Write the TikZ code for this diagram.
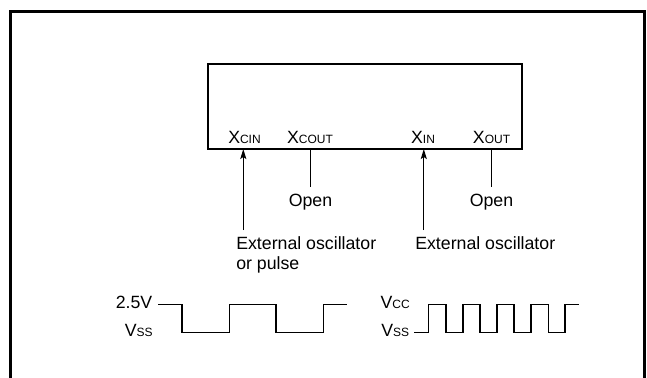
\documentclass[tikz,border=0pt]{standalone}
\usepackage{fontspec}
\setmainfont{Liberation Sans}
\usetikzlibrary{arrows.meta}
\newcommand{\smc}[1]{{\fontsize{9}{10}\selectfont #1}}
\begin{document}
\begin{tikzpicture}[x=0.75pt,y=-0.75pt,
  font=\fontsize{13.3}{15}\selectfont,
  lab/.style={inner sep=0pt, anchor=base},
  labw/.style={inner sep=0pt, anchor=base west},
  labe/.style={inner sep=0pt, anchor=base east},
  pinline/.style={line width=0.9pt},
  arr/.style={line width=0.9pt,-{Stealth[length=7.5pt,width=4.5pt,inset=1.5pt]}},
  wave/.style={line width=1.2pt}]
\useasboundingbox (0,0) rectangle (647,378);
% outer frame (open at bottom)
\draw[line width=1.7pt] (10.5,380) -- (10.5,11.5) -- (644.5,11.5) -- (644.5,380);
% chip
\node[draw, line width=1.2pt, inner sep=0pt, minimum width=235.5pt, minimum height=63.75pt] (chip) at (365,106.5) {};
% pin labels
\node[lab] (lcin)  at (244.5,143) {X\smc{CIN}};
\node[lab] (lcout) at (310,143) {X\smc{COUT}};
\node[lab] (lin)   at (423,143) {X\smc{IN}};
\node[lab] (lout)  at (491.5,143) {X\smc{OUT}};
% pin points on the chip edge
\coordinate (pcin)  at (243.3,149);
\coordinate (pcout) at (310.7,149);
\coordinate (pin)   at (423.8,149);
\coordinate (pout)  at (491.7,149);
% free ends
\coordinate (ecin)  at (243.3,230);
\coordinate (ein)   at (423.8,230);
\coordinate (ecout) at (310.7,187);
\coordinate (eout)  at (491.7,187);
\draw[arr] (ecin) -- (pcin);
\draw[arr] (ein) -- (pin);
\draw[pinline] (pcout) -- (ecout);
\draw[pinline] (pout) -- (eout);
% texts below
\node[lab] (open1) at (310.5,206) {Open};
\node[lab] (open2) at (491.5,206) {Open};
\node[labw] (ext1) at (236,249) {External oscillator};
\node[labw] (ext1b) at (236,269) {or pulse};
\node[labw] (ext2) at (415,249) {External oscillator};
% waveform 1
\node[labe] (v25) at (152.5,308.5) {2.5V};
\node[labe] (vss1) at (153,336.5) {V\smc{SS}};
\draw[wave] (158.3,304.3) -- (181.7,304.3) -- (181.7,332.3) -- (229.3,332.3) -- (229.3,304.3) -- (276,304.3) -- (276,332.3) -- (323.3,332.3) -- (323.3,304.3) -- (347.3,304.3);
% waveform 2
\node[labe] (vcc) at (410,308.5) {V\smc{CC}};
\node[labe] (vss2) at (409.5,336.5) {V\smc{SS}};
\draw[wave] (414,332.3) -- (428.3,332.3) -- (428.3,304.3) -- (446,304.3) -- (446,332.3) -- (462.7,332.3) -- (462.7,304.3) -- (480,304.3) -- (480,332.3) -- (496.7,332.3) -- (496.7,304.3) -- (514,304.3) -- (514,332.3) -- (530.7,332.3) -- (530.7,304.3) -- (548.3,304.3) -- (548.3,332.3) -- (565,332.3) -- (565,304.3) -- (579.3,304.3);
\end{tikzpicture}
\end{document}
